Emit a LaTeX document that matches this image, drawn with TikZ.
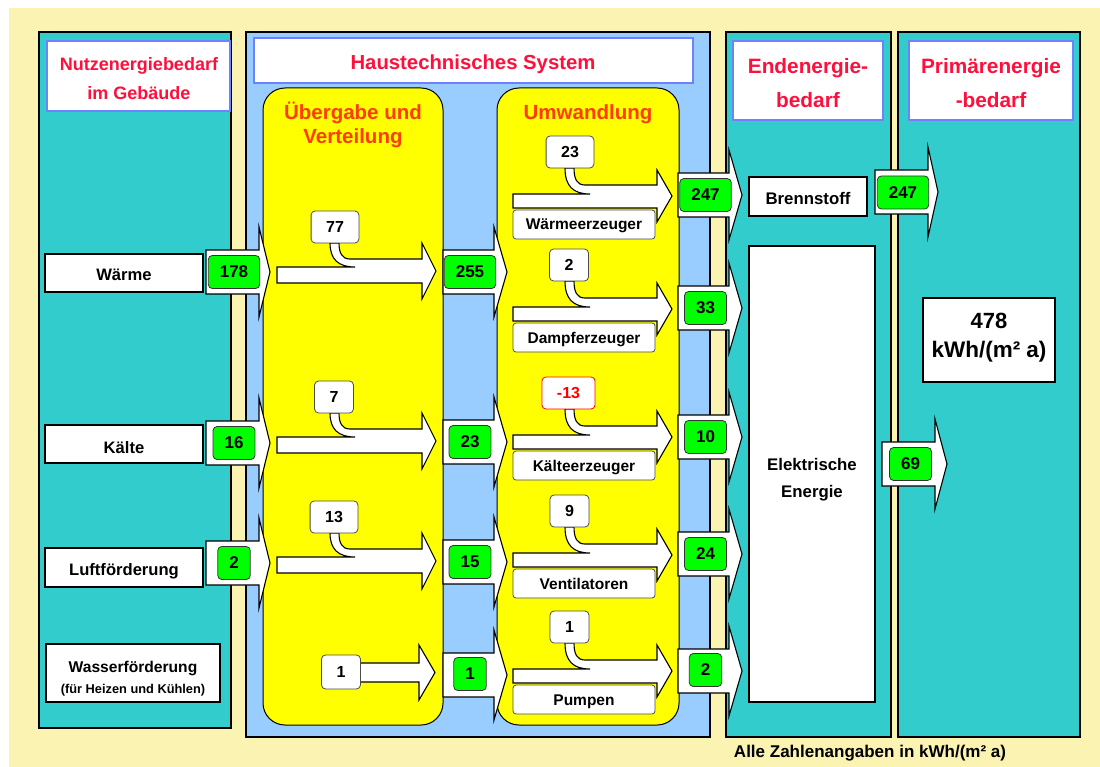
\documentclass[tikz,border=0pt]{standalone}
\usepackage{fontspec}
\setmainfont{Liberation Sans}
\definecolor{bgyel}{RGB}{250,243,178}
\definecolor{tealc}{RGB}{51,204,204}
\definecolor{lblue}{RGB}{153,204,255}
\definecolor{yel}{RGB}{255,255,0}
\definecolor{grn}{RGB}{0,255,0}
\definecolor{hdrred}{RGB}{255,16,60}
\definecolor{orred}{RGB}{255,60,0}
\definecolor{hdrblue}{RGB}{110,130,255}
\newcommand{\setfs}[1]{\fontsize{#1}{#1}\selectfont\bfseries}
% crossing arrow: #1 tail x, #2 head base x, #3 tip x, #4 centre y
\newcommand{\crossarrow}[4]{%
  \draw[arrowshape] (#1,#4-22) -- (#2,#4-22) -- (#2,#4-45) -- (#3,#4) -- (#2,#4+45) -- (#2,#4+22) -- (#1,#4+22) -- cycle;}
% arrow with merging loss hook
% #1 tail x, #2 head base x, #3 tip x, #4 centre y, #5 hook outer x,
% #6 tail top offset, #7 merged top offset, #8 head half height, #9 hook top offset
\newcommand{\hookarrow}[9]{%
  \draw[arrowshape] (#1,#4+12) -- (#1,#4-#6) -- (#5+25,#4-#6)
    .. controls (#5+8,#4-#6) and (#5,#4-#6-8) .. (#5,#4-#9)
    -- (#5+9,#4-#9)
    .. controls (#5+9,#4-#7-6) and (#5+12,#4-#7) .. (#5+20,#4-#7)
    -- (#2,#4-#7) -- (#2,#4-#8) -- (#3,#4) -- (#2,#4+#8) -- (#2,#4+12) -- cycle;}
\tikzset{
  panel/.style={draw=black, line width=2pt},
  hdr/.style={draw=hdrblue, line width=2pt, fill=white},
  yelbox/.style={draw=black, line width=1pt, fill=yel, rounded corners=22pt},
  whitebox/.style={draw=black, line width=2pt, fill=white},
  arrowshape/.style={draw=black, line width=1.1pt, fill=white, line join=miter},
  grnbox/.style={draw=black!80, line width=0.8pt, fill=grn, rounded corners=4pt,
    minimum height=33pt, inner xsep=11.5pt, inner ysep=0pt, font=\setfs{17}},
  lossbox/.style={draw=black!70, line width=0.8pt, fill=white, rounded corners=4pt,
    minimum height=32pt, minimum width=37pt, inner xsep=15pt, inner ysep=0pt, font=\setfs{16}},
  lblbox/.style={draw=black!70, line width=0.8pt, fill=white, rounded corners=3pt},
  txt/.style={anchor=base, inner sep=0pt}
}
\begin{document}
\begin{tikzpicture}[x=1pt,y=-1pt]
\useasboundingbox (0,0) rectangle (1100,767);
\fill[bgyel] (9,8) rectangle (1100,767);

% panels
\draw[panel, fill=tealc] (39,32) rectangle (231,728);
\draw[panel, fill=lblue] (246,32) rectangle (710,737);
\draw[panel, fill=tealc] (726,32) rectangle (891,737);
\draw[panel, fill=tealc] (898,32) rectangle (1080,737);

% header boxes
\draw[hdr] (47,41) rectangle (230,111);
\draw[hdr] (254,38) rectangle (693,83);
\draw[hdr] (733,41) rectangle (883,120);
\draw[hdr] (909,41) rectangle (1073,120);

% yellow sub-systems
\draw[yelbox] (263,88) rectangle (443,725);
\draw[yelbox] (497,88) rectangle (679,725);

% left boxes
\draw[whitebox] (45,254) rectangle (203,292);
\draw[whitebox] (45,425) rectangle (203,463);
\draw[whitebox] (45,548) rectangle (203,587);
\draw[whitebox] (46,644) rectangle (220,702);

% final / primary boxes
\draw[whitebox] (749,177) rectangle (867,216);
\draw[whitebox] (749,246) rectangle (875,702);
\draw[whitebox] (923,298) rectangle (1055,382);

% headings
\node[txt, text=hdrred, font=\setfs{18}] (h1a) at (139,71) {Nutzenergiebedarf};
\node[txt, text=hdrred, font=\setfs{18}] (h1b) at (139,100) {im Gebäude};
\node[txt, text=hdrred, font=\setfs{20.3}] (h2) at (473,70) {Haustechnisches System};
\node[txt, text=hdrred, font=\setfs{20.8}] (h3a) at (808,74) {Endenergie-};
\node[txt, text=hdrred, font=\setfs{20.8}] (h3b) at (808,108) {bedarf};
\node[txt, text=hdrred, font=\setfs{20.8}] (h4a) at (991,74) {Primärenergie};
\node[txt, text=hdrred, font=\setfs{20.8}] (h4b) at (991,108) {-bedarf};
\node[txt, text=orred, font=\setfs{20.5}] (y1a) at (353,120) {Übergabe und};
\node[txt, text=orred, font=\setfs{20.5}] (y1b) at (353,144) {Verteilung};
\node[txt, text=orred, font=\setfs{20.5}] (y2) at (588,120) {Umwandlung};

% left labels
\node[txt, font=\setfs{16.6}] (lW) at (124,281) {Wärme};
\node[txt, font=\setfs{16.6}] (lK) at (124,453) {Kälte};
\node[txt, font=\setfs{16.6}] (lL) at (124,575) {Luftförderung};
\node[txt, font=\setfs{15.6}] (lWa) at (133,672) {Wasserförderung};
\node[txt, font=\setfs{12.8}] (lWb) at (133,693) {(für Heizen und Kühlen)};

% right labels
\node[txt, font=\setfs{16.8}] (lB) at (808,205) {Brennstoff};
\node[txt, font=\setfs{16.8}] (lEa) at (812,470) {Elektrische};
\node[txt, font=\setfs{16.8}] (lEb) at (812,497) {Energie};
\node[txt, font=\setfs{22}] (tot1) at (989,328) {478};
\node[txt, font=\setfs{22.5}] (tot2) at (989,357) {kWh/(m² a)};
\node[txt, font=\setfs{17}] (note) at (870,757) {Alle Zahlenangaben in kWh/(m² a)};

% crossing arrows: Nutzenergie -> Haustechnik
\crossarrow{206}{259}{270}{272}
\crossarrow{206}{259}{270}{443}
\crossarrow{206}{259}{270}{563}
\node[grnbox] (g1a) at (234,272) {178};
\node[grnbox] (g1b) at (234,443) {16};
\node[grnbox] (g1c) at (234,563) {2};

% crossing arrows: Übergabe -> Umwandlung
\crossarrow{443}{494}{507}{272}
\crossarrow{443}{494}{507}{442}
\crossarrow{443}{494}{507}{562}
\crossarrow{443}{494}{507}{675}
\node[grnbox] (g2a) at (470,272) {255};
\node[grnbox] (g2b) at (470,442) {23};
\node[grnbox] (g2c) at (470,562) {15};
\node[grnbox] (g2d) at (470,674) {1};

% crossing arrows: Umwandlung -> Endenergie
\crossarrow{678}{729}{742}{195}
\crossarrow{678}{729}{742}{308}
\crossarrow{678}{729}{742}{437}
\crossarrow{678}{729}{742}{554}
\crossarrow{678}{729}{742}{671}
\node[grnbox] (g3a) at (705.5,195) {247};
\node[grnbox] (g3b) at (705.5,308) {33};
\node[grnbox] (g3c) at (705.5,437) {10};
\node[grnbox] (g3d) at (705.5,554) {24};
\node[grnbox] (g3e) at (705.5,670) {2};

% crossing arrows: Endenergie -> Primärenergie
\crossarrow{875}{928}{938}{192}
\crossarrow{882}{935}{947}{464}
\node[grnbox] (g4a) at (903,192.5) {247};
\node[grnbox] (g4b) at (910.5,464) {69};

% Übergabe und Verteilung arrows
\hookarrow{277}{422}{436}{271}{330}{4}{12}{28}{28}
\hookarrow{277}{422}{436}{441}{330}{4}{12}{28}{28}
\hookarrow{277}{422}{436}{561}{330}{4}{12}{28}{28}
\node[lossbox] (v1) at (335,227) {77};
\node[lossbox] (v2) at (334,397) {7};
\node[lossbox] (v3) at (334,517) {13};
\draw[arrowshape] (350,663) -- (419,663) -- (419,645) -- (435,672.5) -- (419,700) -- (419,682) -- (350,682) -- cycle;
\node[lossbox, minimum width=32pt, minimum height=34pt] (v4) at (341,672) {1};

% Umwandlung arrows
\draw[lblbox] (513,210) rectangle (655,239);
\draw[lblbox] (513,323) rectangle (655,352);
\draw[lblbox] (513,451) rectangle (655,480);
\draw[lblbox] (513,569) rectangle (655,598);
\draw[lblbox] (513,685) rectangle (655,714);
\node[txt, font=\setfs{15.5}] (u1l) at (584,230) {Wärmeerzeuger};
\node[txt, font=\setfs{15.5}] (u2l) at (584,343) {Dampferzeuger};
\node[txt, font=\setfs{15.5}] (u3l) at (584,471) {Kälteerzeuger};
\node[txt, font=\setfs{15.5}] (u4l) at (584,589) {Ventilatoren};
\node[txt, font=\setfs{15.5}] (u5l) at (584,705) {Pumpen};
\hookarrow{513}{657}{672}{196}{565}{2}{11}{26}{28}
\hookarrow{513}{657}{672}{309}{565}{2}{11}{26}{28}
\hookarrow{513}{657}{672}{437}{565}{2}{11}{26}{28}
\hookarrow{513}{657}{672}{555}{565}{2}{11}{26}{28}
\hookarrow{513}{657}{672}{671}{565}{2}{11}{26}{28}
\node[lossbox] (w1) at (570,152) {23};
\node[lossbox] (w2) at (569,265) {2};
\node[lossbox, draw=red, text=red] (w3) at (568.5,393) {-13};
\node[lossbox] (w4) at (569.5,511) {9};
\node[lossbox] (w5) at (569.5,627) {1};
\end{tikzpicture}
\end{document}
